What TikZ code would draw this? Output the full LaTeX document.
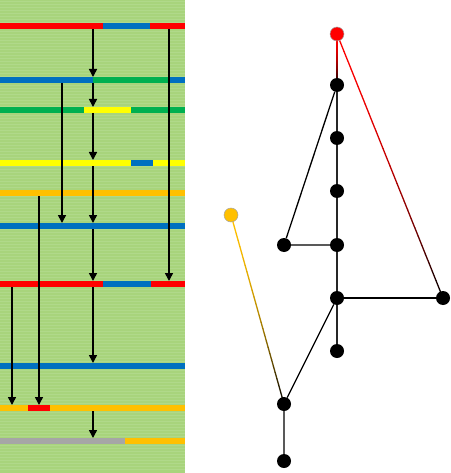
\documentclass[tikz,border=0pt]{standalone}
\usepackage{tikz}
\usetikzlibrary{arrows.meta, calc, backgrounds}

\definecolor{barred}{HTML}{FF0000}
\definecolor{barblue}{HTML}{0070C0}
\definecolor{bargreen}{HTML}{00B050}
\definecolor{baryellow}{HTML}{FFFF00}
\definecolor{barorange}{HTML}{FFC000}
\definecolor{bargray}{HTML}{A6A6A6}
\definecolor{panelgreen}{HTML}{A8D47C}
\definecolor{panelstripe}{HTML}{B0D98A}

\tikzset{
  flowarrow/.style={line width=1.5pt, -{Triangle[width=8pt,length=8pt]}},
  vertex/.style={circle, fill=black, minimum size=14pt, inner sep=0pt},
  rootvertex/.style={vertex, fill=barred, draw=gray!70, line width=0.5pt},
  leafvertex/.style={vertex, fill=barorange, draw=gray!70, line width=0.5pt},
  edge/.style={line width=1.3pt}
}

\newcommand\seg[4]{\fill[#1] ($(r#2)+(#3,-3)$) rectangle ($(r#2)+(#4,3)$);}
\newcommand\flow[3]{\draw[flowarrow] ($(r#2)+(#1,3)$) -- ($(r#3)+(#1,-3)$);}
\newcommand\gradedge[3]{%
  \foreach \i in {0,...,29}{
    \pgfmathtruncatemacro\p{100*(1-((\i+0.5)/30)^2)}
    \pgfmathsetmacro\s{\i/30}
    \pgfmathsetmacro\t{(\i+1)/30}
    \draw[edge, line cap=round, #3!\p!black] ($(#1)!\s!(#2)$) -- ($(#1)!\t!(#2)$);
  }}

\begin{document}
\begin{tikzpicture}[x=1pt, y=-1pt]
  \useasboundingbox (0,0) rectangle (450,473);

  \fill[panelgreen] (0,0) rectangle (185,473);
  \foreach \y in {1.5,4.5,...,472}
    \draw[panelstripe, line width=0.8pt] (0,\y) -- (185,\y);

  \coordinate (r1) at (0,26);
  \coordinate (r2) at (0,80);
  \coordinate (r3) at (0,110);
  \coordinate (r4) at (0,163);
  \coordinate (r5) at (0,193);
  \coordinate (r6) at (0,226);
  \coordinate (r7) at (0,284);
  \coordinate (r8) at (0,366);
  \coordinate (r9) at (0,408);
  \coordinate (r10) at (0,441);

  \seg{barred}{1}{0}{103} \seg{barblue}{1}{103}{150} \seg{barred}{1}{150}{185}
  \seg{barblue}{2}{0}{93} \seg{bargreen}{2}{93}{168} \seg{barblue}{2}{168}{185}
  \seg{bargreen}{3}{0}{84} \seg{baryellow}{3}{84}{131} \seg{bargreen}{3}{131}{185}
  \seg{baryellow}{4}{0}{131} \seg{barblue}{4}{131}{153} \seg{baryellow}{4}{153}{185}
  \seg{barorange}{5}{0}{185}
  \seg{barblue}{6}{0}{185}
  \seg{barred}{7}{0}{103} \seg{barblue}{7}{103}{151} \seg{barred}{7}{151}{185}
  \seg{barblue}{8}{0}{185}
  \seg{barorange}{9}{0}{28} \seg{barred}{9}{28}{50} \seg{barorange}{9}{50}{185}
  \seg{bargray}{10}{0}{125} \seg{barorange}{10}{125}{185}

  \flow{93}{1}{2}
  \flow{93}{2}{3}
  \flow{93}{3}{4}
  \flow{93}{4}{6}
  \flow{93}{6}{7}
  \flow{93}{7}{8}
  \flow{93}{9}{10}
  \flow{62}{2}{6}
  \flow{169}{1}{7}
  \flow{39}{5}{9}
  \flow{12}{7}{9}

  \node[rootvertex] (root) at (337,34) {};
  \node[vertex] (a1) at (337,85) {};
  \node[vertex] (a2) at (337,138) {};
  \node[vertex] (a3) at (337,191) {};
  \node[vertex] (a4) at (337,245) {};
  \node[vertex] (b1) at (284,245) {};
  \node[vertex] (a5) at (337,298) {};
  \node[vertex] (c1) at (443,298) {};
  \node[vertex] (a6) at (337,351) {};
  \node[vertex] (d1) at (284,404) {};
  \node[vertex] (d2) at (284,461) {};
  \node[leafvertex] (o1) at (231,215) {};

  \begin{scope}[on background layer]
    \draw[edge, black!85] (a1) -- (a2) -- (a3) -- (a4) -- (a5) -- (a6);
    \draw[edge] (a1) -- (b1) -- (a4);
    \draw[edge] (a5) -- (c1);
    \draw[edge] (a5) -- (d1) -- (d2);
    \gradedge{root}{a1}{barred}
    \gradedge{root}{c1}{barred}
    \gradedge{o1}{d1}{barorange}
  \end{scope}
\end{tikzpicture}
\end{document}
